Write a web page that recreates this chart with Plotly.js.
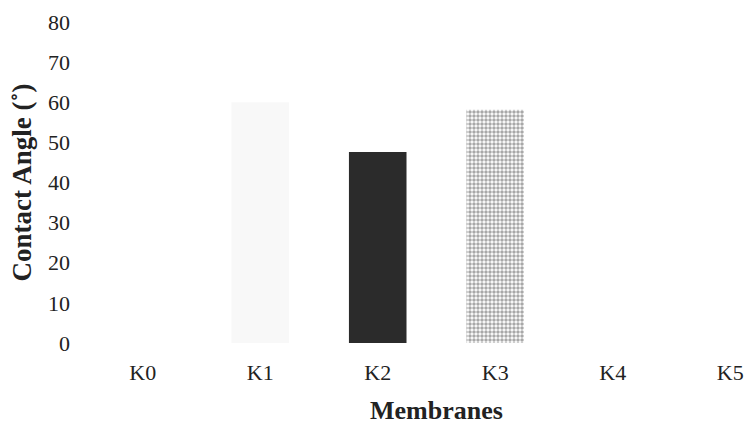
<!DOCTYPE html>
<html>
<head>
<meta charset="utf-8">
<script src="https://cdn.plot.ly/plotly-3.0.1.min.js"></script>
<style>html,body{margin:0;padding:0;background:#fff;}#chart{width:745px;height:424px;}</style>
</head>
<body>
<div id="chart"></div>
<script>
var membranes = ["K0", "K1", "K2", "K3", "K4", "K5"];
var contactAngle = [null, 60, 47.6, 58.1, null, null];
var yTicks = [0, 10, 20, 30, 40, 50, 60, 70, 80];
var xTitle = "Membranes";
var yTitle = "Contact Angle (˚)";

var barColors = ["#ffffff", "#f8f8f8", "#2b2b2b", "#a8a8a8", "#ffffff", "#ffffff"];

var trace = {
  type: "bar",
  x: membranes,
  y: contactAngle,
  width: 0.49,
  marker: {
    color: barColors,
    line: {width: 0},
    pattern: {
      shape: ["", "", "", ".", "", ""],
      fgcolor: "#666666",
      bgcolor: "#c4c4c4",
      size: 4,
      solidity: 0.6
    }
  },
  hoverinfo: "x+y"
};

var serif = "Liberation Serif, Times New Roman, serif";
var layout = {
  width: 745,
  height: 424,
  margin: {l: 84, r: 0, t: 22, b: 81},
  paper_bgcolor: "#ffffff",
  plot_bgcolor: "#ffffff",
  showlegend: false,
  font: {family: serif, color: "#222222", size: 22},
  xaxis: {
    type: "category",
    range: [-0.5, 5.126],
    showgrid: false,
    showline: false,
    zeroline: false,
    ticks: "",
    ticklabelstandoff: 14,
    tickfont: {family: serif, size: 22, color: "#222222"}
  },
  yaxis: {
    range: [0, 80],
    tickvals: yTicks,
    ticktext: yTicks.map(String),
    showgrid: false,
    showline: false,
    zeroline: false,
    ticks: "",
    ticklabelstandoff: 13,
    tickfont: {family: serif, size: 22, color: "#222222"},
    title: {text: yTitle, font: {family: serif, size: 27, color: "#222222", weight: "bold"}, standoff: 8}
  },
  annotations: [{
    text: xTitle,
    xref: "x",
    yref: "paper",
    x: 2.5,
    y: 0,
    yshift: -67,
    yanchor: "middle",
    xanchor: "center",
    showarrow: false,
    font: {family: serif, size: 26, color: "#222222", weight: "bold"}
  }]
};

Plotly.newPlot("chart", [trace], layout, {displayModeBar: false, staticPlot: true});
</script>
</body>
</html>
